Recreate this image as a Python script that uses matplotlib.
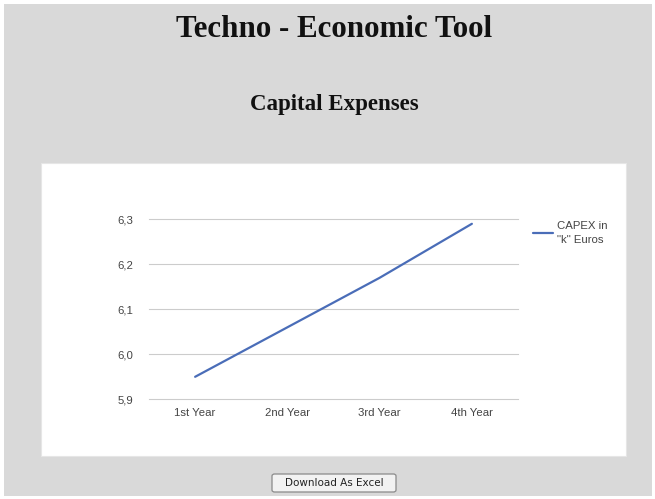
import matplotlib
matplotlib.use("Agg")
import matplotlib.pyplot as plt
from matplotlib.patches import Rectangle, FancyBboxPatch
from matplotlib.ticker import FuncFormatter

years = ["1st Year", "2nd Year", "3rd Year", "4th Year"]
capex = [5.95, 6.06, 6.17, 6.29]
series_label = 'CAPEX in\n"k" Euros'
y_ticks = [5.9, 6.0, 6.1, 6.2, 6.3]

W, H = 655, 499
fig = plt.figure(figsize=(W / 100, H / 100), dpi=100, facecolor="white")


def px_box(x0, y0, x1, y1):
    """Convert a pixel box (top-left origin) to figure fractions."""
    return x0 / W, 1 - y1 / H, (x1 - x0) / W, (y1 - y0) / H


# page background and white chart panel
fig.patches.append(Rectangle((4 / W, 1 - 496 / H), 648 / W, 492 / H,
                             transform=fig.transFigure, facecolor="#d9d9d9",
                             edgecolor="none", zorder=0))
fig.patches.append(Rectangle((41 / W, 1 - 456 / H), 585 / W, 293 / H,
                             transform=fig.transFigure, facecolor="white",
                             edgecolor="#e6e6e6", linewidth=0.8, zorder=1))

fig.text(334 / W, 1 - 37 / H, "Techno - Economic Tool", ha="center", va="baseline",
         family="Liberation Serif", fontweight="bold", fontsize=22.3, color="#111111")
fig.text(334 / W, 1 - 110 / H, "Capital Expenses", ha="center", va="baseline",
         family="Liberation Serif", fontweight="bold", fontsize=16.5, color="#111111")

ax = fig.add_axes(px_box(149, 219.3, 518, 399.3))
ax.set_zorder(5)
ax.set_facecolor("white")
ax.plot(range(len(years)), capex, color="#4a6db8", linewidth=1.6,
        label=series_label, solid_capstyle="round")
ax.set_xlim(-0.5, len(years) - 0.5)
ax.set_ylim(5.9, 6.3)
ax.set_yticks(y_ticks)
ax.yaxis.set_major_formatter(FuncFormatter(lambda v, p: f"{v:.1f}".replace(".", ",")))
ax.set_xticks(range(len(years)))
ax.set_xticklabels(years)
ax.grid(axis="y", color="#cccccc", linewidth=0.8)
for gl in ax.get_ygridlines():
    gl.set_clip_on(False)
ax.set_axisbelow(True)
for s in ax.spines.values():
    s.set_visible(False)
ax.tick_params(length=0, labelsize=8.2, labelcolor="#444444")
ax.tick_params(axis="y", pad=11)
ax.tick_params(axis="x", pad=6)
for lbl in ax.get_xticklabels() + ax.get_yticklabels():
    lbl.set_family("Liberation Sans")

leg = ax.legend(loc="upper left", bbox_to_anchor=(527 / W, 1 - 215 / H),
                bbox_transform=fig.transFigure, frameon=False, handlelength=1.8,
                handletextpad=0.35, borderpad=0, prop={"family": "Liberation Sans", "size": 8.2})
for t in leg.get_texts():
    t.set_color("#444444")
    t.set_linespacing(1.5)

# button
bx0, by0, bx1, by1 = 272, 474, 396, 492
fig.patches.append(FancyBboxPatch((bx0 / W, 1 - by1 / H), (bx1 - bx0) / W, (by1 - by0) / H,
                                  boxstyle="round,pad=0,rounding_size=0.004",
                                  transform=fig.transFigure, facecolor="#f2f2f2",
                                  edgecolor="#8a8a8a", linewidth=0.9, zorder=2))
fig.text((bx0 + bx1) / 2 / W, 1 - (by0 + by1) / 2 / H, "Download As Excel",
         ha="center", va="center", fontsize=7.5, family="DejaVu Sans", color="#222222", zorder=3)

fig.savefig("out.png", dpi=100, facecolor=fig.get_facecolor())
